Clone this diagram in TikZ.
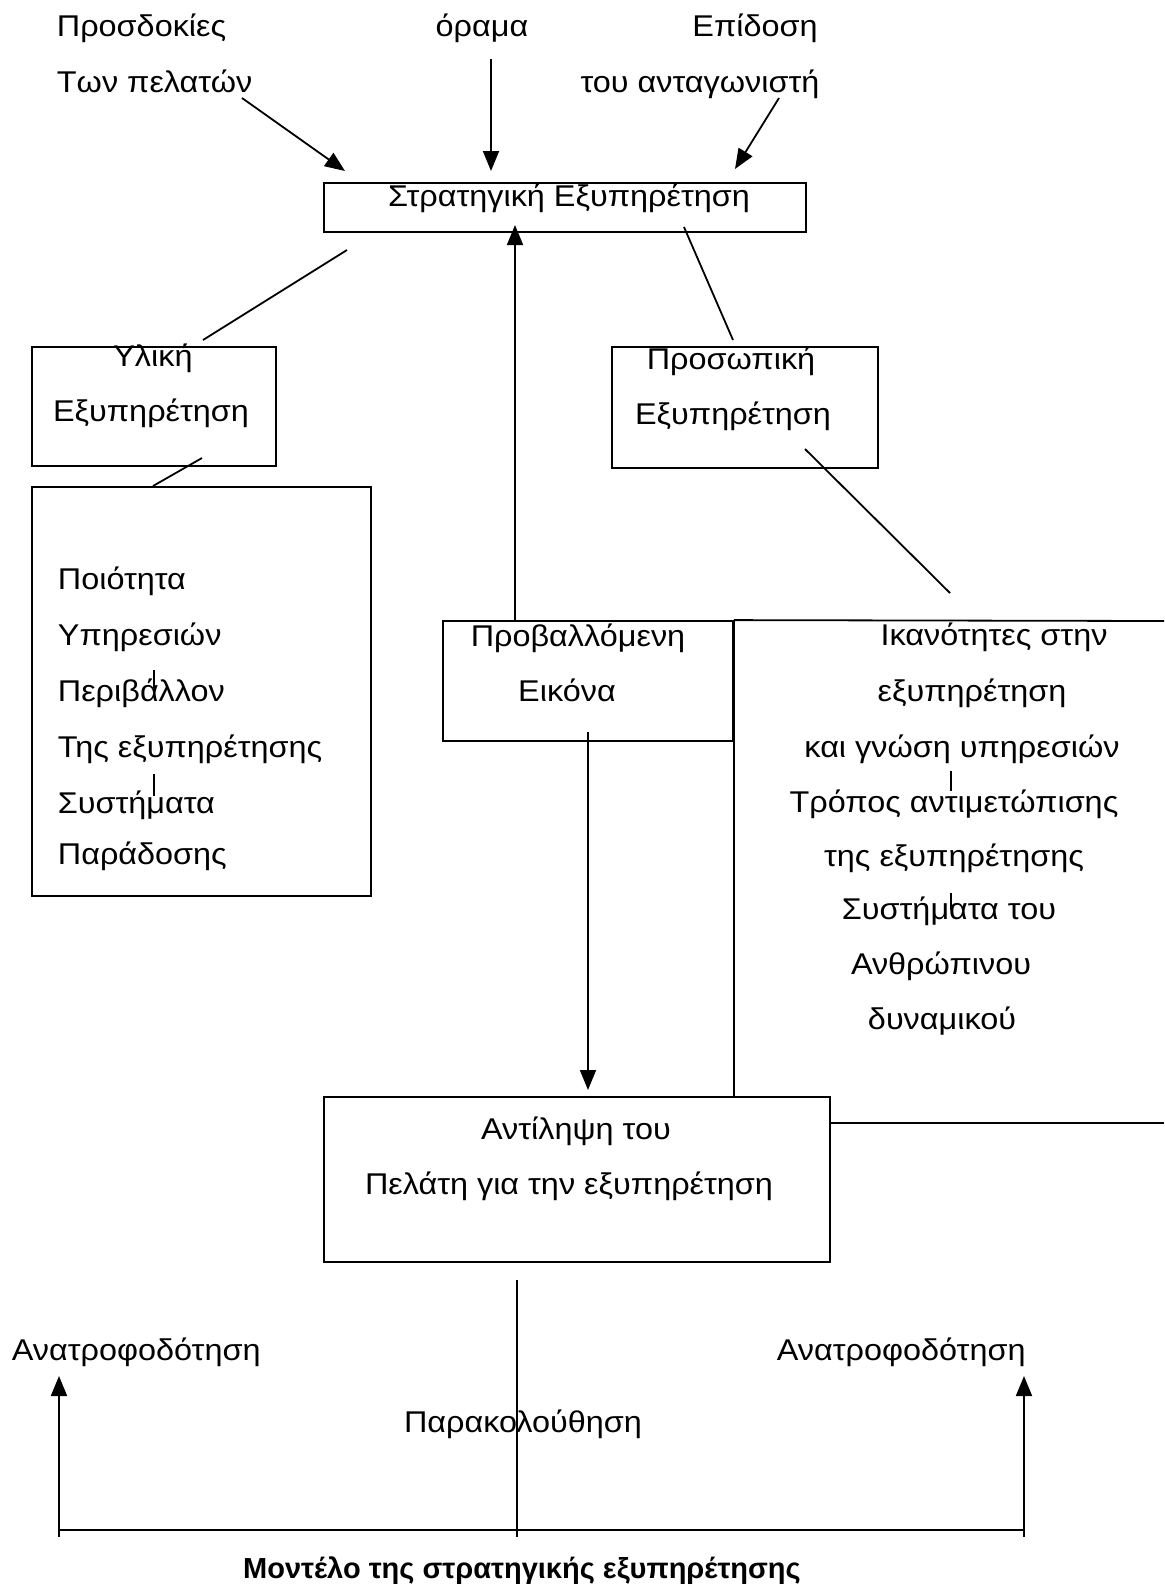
\documentclass[tikz,border=0pt]{standalone}
\usepackage{fontspec}
\setmainfont{Liberation Sans}[FakeStretch=1.08]
\newfontfamily\headfont{Liberation Sans}
\usetikzlibrary{arrows.meta,fit}

\tikzset{
  box/.style={draw, inner sep=0pt},
  txt/.style={anchor=mid, inner sep=0pt},
  ltxt/.style={anchor=mid west, inner sep=0pt},
  arr/.style={-{Triangle[width=8pt,length=10pt]}},
}

\begin{document}
\begin{tikzpicture}[x=0.5pt,y=-0.5pt,line width=0.9pt,font=\fontsize{15}{18}\selectfont]
        \useasboundingbox (0,0) rectangle (1164,1591);
        % inputs
        \node[ltxt] (prosd) at (56, 31) {Προσδοκίες};
        \node[ltxt] (pelat) at (56, 87) {Των πελατών};
        \node[txt] (orama) at (482, 31) {όραμα};
        \node[txt] (epid) at (755, 31) {Επίδοση};
        \node[txt] (antag) at (700, 87) {του ανταγωνιστή};
        \coordinate (pelat-e) at (242, 98);
        \coordinate (orama-e) at (491, 59);
        \coordinate (antag-e) at (779, 98);
        \coordinate (strat-a) at (345, 171);
        \coordinate (strat-b) at (491, 171);
        \coordinate (strat-c) at (735, 169);
        \draw[arr] (pelat-e) to (strat-a);
        \draw[arr] (orama-e) to (strat-b);
        \draw[arr] (antag-e) to (strat-c);
        % strategy
        \node[box, fit={(324, 183) (806, 232)}] (strat) {};
        \node[txt] (strat-t) at (569, 201) {Στρατηγική Εξυπηρέτηση};
        % material / personal
        \node[box, fit={(32, 347) (276, 466)}] (ylik) {};
        \node[txt] (ylik-t1) at (153, 361) {Υλική};
        \node[txt] (ylik-t2) at (151, 416) {Εξυπηρέτηση};
        \node[box, fit={(612, 347) (878, 468)}] (pros) {};
        \node[txt] (pros-t1) at (731, 364) {Προσωπική};
        \node[txt] (pros-t2) at (733, 419) {Εξυπηρέτηση};
        \coordinate (strat-l) at (347, 250);
        \coordinate (ylik-top) at (203, 340);
        \coordinate (strat-r) at (684, 227);
        \coordinate (pros-top) at (733, 340);
        \draw (strat-l) to (ylik-top);
        \draw (strat-r) to (pros-top);
        % material list
        \node[box, fit={(32, 487) (371, 896)}] (ylist) {};
        \node[ltxt] (yl1) at (57, 584) {Ποιότητα};
        \node[ltxt] (yl2) at (57, 640) {Υπηρεσιών};
        \node[ltxt] (yl3) at (57, 696) {Περιβάλλον};
        \node[ltxt] (yl4) at (57, 752) {Της εξυπηρέτησης};
        \node[ltxt] (yl5) at (57, 808) {Συστήματα};
        \node[ltxt] (yl6) at (57, 859) {Παράδοσης};
        \draw (154, 670) to (154, 688);
        \draw (154, 774) to (154, 796);
        \coordinate (ylik-bot) at (202, 458);
        \coordinate (ylist-top) at (153, 486);
        \draw (ylik-bot) to (ylist-top);
        % projected image
        \node[box, fit={(443, 621) (733, 741)}] (proj) {};
        \node[txt] (proj-t1) at (578, 641) {Προβαλλόμενη};
        \node[txt] (proj-t2) at (567, 696) {Εικόνα};
        \coordinate (strat-up) at (515, 225);
        \draw[arr] (proj.north -| strat-up) to (strat-up);
        % skills
        \node[txt] (ik1) at (994, 640) {Ικανότητες στην};
        \node[txt] (ik2) at (972, 696) {εξυπηρέτηση};
        \node[txt] (ik3) at (962, 752) {και γνώση υπηρεσιών};
        \node[txt] (ik4) at (954, 807) {Τρόπος αντιμετώπισης};
        \node[txt] (ik5) at (954, 861) {της εξυπηρέτησης};
        \node[txt] (ik6) at (949, 914) {Συστήματα του};
        \node[txt] (ik7) at (941, 969) {Ανθρώπινου};
        \node[txt] (ik8) at (942, 1024) {δυναμικού};
        \draw (951, 771) to (951, 791);
        \draw (951, 893) to (951, 910);
        \coordinate (pros-in) at (805, 449);
        \coordinate (ik-top) at (950, 593);
        \draw (pros-in) to (ik-top);
        % perception
        \node[box, fit={(324, 1097) (830, 1262)}] (perc) {};
        \node[txt] (perc-t1) at (576, 1134) {Αντίληψη του};
        \node[txt] (perc-t2) at (569, 1189) {Πελάτη για την εξυπηρέτηση};
        \draw (proj.north east) to (1164, 621);
        \draw (proj.north east) to (proj.north east |- perc.north);
        \draw (perc.east |- 0, 1123) to (1164, 1123);
        \coordinate (proj-in) at (588, 732);
        \draw[arr] (proj-in) to (proj-in |- 0, 1090);
        % feedback
        \node[ltxt] (fb1) at (11, 1355) {Ανατροφοδότηση};
        \node[ltxt] (fb2) at (776, 1355) {Ανατροφοδότηση};
        \node[txt] (mon) at (523, 1427) {Παρακολούθηση};
        \coordinate (ml) at (59, 1530);
        \coordinate (mr) at (1024, 1530);
        \draw (517, 1280) to (517, 1537);
        \draw (ml) to (mr);
        \draw[arr] (59, 1537) to (59, 1376);
        \draw[arr] (1024, 1537) to (1024, 1376);
        \node[txt, font=\headfont\fontsize{14.5}{18}\selectfont\bfseries] (title) at (522, 1573) {Μοντέλο της στρατηγικής εξυπηρέτησης};
\end{tikzpicture}
\end{document}
